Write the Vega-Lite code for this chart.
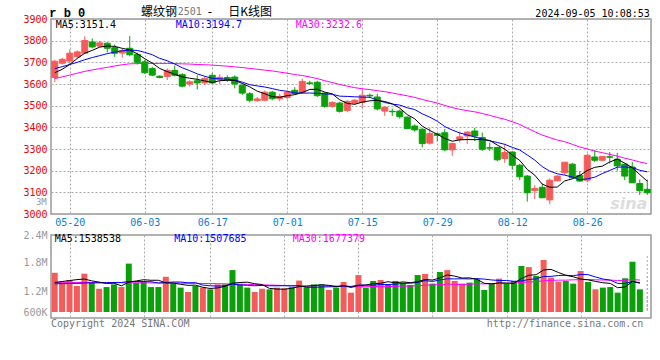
{
  "$schema": "https://vega.github.io/schema/vega-lite/v6.json",
  "autosize": {"type": "pad"},
  "padding": {"left": 22, "top": 5, "right": 9, "bottom": 32},
  "background": "white",
  "spacing": 21,
  "bounds": "flush",
  "config": {
    "view": {"stroke": "#999999", "strokeWidth": 1.5},
    "font": "DejaVu Sans Mono",
    "axis": {"labelFont": "DejaVu Sans Mono", "labelFontSize": 10, "title": null, "labelOverlap": false, "labelFlush": false}
  },
  "datasets": {
    "k": [
      {"d":"05-16","o":3630,"h":3712,"l":3608,"c":3705,"v":2060000,"m5":3652,"m10":3671,"m30":3625,"vm5":1550000,"vm10":1480000,"vm30":1560000},
      {"d":"05-17","o":3696,"h":3720,"l":3690,"c":3714,"v":1540000,"m5":3668,"m10":3680,"m30":3633,"vm5":1600000,"vm10":1490000,"vm30":1558000},
      {"d":"05-20","o":3706,"h":3760,"l":3690,"c":3742,"v":1680000,"m5":3690,"m10":3690,"m30":3641,"vm5":1650000,"vm10":1500000,"vm30":1555000},
      {"d":"05-21","o":3726,"h":3755,"l":3718,"c":3748,"v":1365000,"m5":3718,"m10":3700,"m30":3650,"vm5":1700000,"vm10":1500000,"vm30":1552000},
      {"d":"05-22","o":3742,"h":3820,"l":3740,"c":3801,"v":2010000,"m5":3742,"m10":3712,"m30":3658,"vm5":1731000,"vm10":1520000,"vm30":1550000},
      {"d":"05-23","o":3794,"h":3810,"l":3765,"c":3771,"v":1575000,"m5":3755.2,"m10":3722,"m30":3665,"vm5":1634000,"vm10":1530000,"vm30":1548000},
      {"d":"05-24","o":3775,"h":3800,"l":3770,"c":3790,"v":1220000,"m5":3770.4,"m10":3731,"m30":3671,"vm5":1570000,"vm10":1530000,"vm30":1545000},
      {"d":"05-27","o":3788,"h":3793,"l":3745,"c":3765,"v":1310000,"m5":3775,"m10":3740,"m30":3677,"vm5":1496000,"vm10":1540000,"vm30":1542000},
      {"d":"05-28","o":3768,"h":3782,"l":3725,"c":3742,"v":1450000,"m5":3773.8,"m10":3747,"m30":3683,"vm5":1513000,"vm10":1550000,"vm30":1540000},
      {"d":"05-29","o":3743,"h":3762,"l":3722,"c":3755,"v":1310000,"m5":3764.6,"m10":3753.3,"m30":3689,"vm5":1373000,"vm10":1552000,"vm30":1537000},
      {"d":"05-30","o":3765,"h":3822,"l":3728,"c":3735,"v":2540000,"m5":3757.4,"m10":3756.3,"m30":3693,"vm5":1566000,"vm10":1600000,"vm30":1535000},
      {"d":"05-31","o":3737,"h":3745,"l":3690,"c":3700,"v":1540000,"m5":3739.4,"m10":3754.9,"m30":3694,"vm5":1630000,"vm10":1600000,"vm30":1532000},
      {"d":"06-03","o":3702,"h":3712,"l":3646,"c":3652,"v":1630000,"m5":3716.8,"m10":3745.9,"m30":3695,"vm5":1694000,"vm10":1595000,"vm30":1530000},
      {"d":"06-04","o":3671,"h":3680,"l":3636,"c":3641,"v":1310000,"m5":3696.6,"m10":3735.2,"m30":3695,"vm5":1666000,"vm10":1590000,"vm30":1527000},
      {"d":"06-05","o":3636,"h":3640,"l":3626,"c":3630,"v":1310000,"m5":3671.6,"m10":3718.1,"m30":3695,"vm5":1666000,"vm10":1520000,"vm30":1524000},
      {"d":"06-06","o":3635,"h":3672,"l":3618,"c":3663,"v":1850000,"m5":3657.2,"m10":3707.3,"m30":3695,"vm5":1528000,"vm10":1547000,"vm30":1520000},
      {"d":"06-07","o":3663,"h":3685,"l":3635,"c":3640,"v":1510000,"m5":3645.2,"m10":3692.3,"m30":3694,"vm5":1522000,"vm10":1576000,"vm30":1516000},
      {"d":"06-11","o":3643,"h":3650,"l":3585,"c":3590,"v":1280000,"m5":3632.8,"m10":3674.8,"m30":3693,"vm5":1452000,"vm10":1573000,"vm30":1512000},
      {"d":"06-12","o":3600,"h":3618,"l":3588,"c":3610,"v":1050000,"m5":3626.6,"m10":3661.6,"m30":3692,"vm5":1400000,"vm10":1533000,"vm30":1508000},
      {"d":"06-13","o":3615,"h":3640,"l":3575,"c":3605,"v":1365000,"m5":3621.6,"m10":3646.6,"m30":3690,"vm5":1411000,"vm10":1539000,"vm30":1503000},
      {"d":"06-14","o":3605,"h":3635,"l":3595,"c":3625,"v":1280000,"m5":3614,"m10":3635.6,"m30":3689,"vm5":1297000,"vm10":1413000,"vm30":1498000},
      {"d":"06-17","o":3640,"h":3650,"l":3600,"c":3605,"v":1190000,"m5":3607,"m10":3626.1,"m30":3687,"vm5":1233000,"vm10":1378000,"vm30":1492000},
      {"d":"06-18","o":3620,"h":3645,"l":3600,"c":3631,"v":1450000,"m5":3615.2,"m10":3624,"m30":3685,"vm5":1267000,"vm10":1360000,"vm30":1486000},
      {"d":"06-19","o":3630,"h":3640,"l":3610,"c":3620,"v":1450000,"m5":3617.2,"m10":3621.9,"m30":3682,"vm5":1347000,"vm10":1374000,"vm30":1480000},
      {"d":"06-20","o":3632,"h":3640,"l":3580,"c":3600,"v":2200000,"m5":3616.2,"m10":3618.9,"m30":3679,"vm5":1514000,"vm10":1463000,"vm30":1473000},
      {"d":"06-21","o":3594,"h":3600,"l":3550,"c":3558,"v":1450000,"m5":3602.8,"m10":3608.4,"m30":3676,"vm5":1548000,"vm10":1423000,"vm30":1460000},
      {"d":"06-24","o":3555,"h":3562,"l":3515,"c":3525,"v":1280000,"m5":3586.8,"m10":3596.9,"m30":3672,"vm5":1566000,"vm10":1400000,"vm30":1450000},
      {"d":"06-25","o":3523,"h":3540,"l":3518,"c":3531,"v":1050000,"m5":3566.8,"m10":3591,"m30":3668,"vm5":1486000,"vm10":1377000,"vm30":1440000},
      {"d":"06-26","o":3525,"h":3570,"l":3520,"c":3562,"v":1220000,"m5":3555.2,"m10":3586.2,"m30":3664,"vm5":1440000,"vm10":1394000,"vm30":1425000},
      {"d":"06-27","o":3562,"h":3568,"l":3525,"c":3532,"v":1190000,"m5":3541.6,"m10":3578.9,"m30":3660.3,"vm5":1238000,"vm10":1376000,"vm30":1413000},
      {"d":"06-28","o":3532,"h":3555,"l":3520,"c":3543,"v":1280000,"m5":3538.6,"m10":3570.7,"m30":3654.9,"vm5":1204000,"vm10":1376000,"vm30":1404000},
      {"d":"07-01","o":3538,"h":3570,"l":3530,"c":3562,"v":1240000,"m5":3546,"m10":3566.4,"m30":3649.8,"vm5":1196000,"vm10":1381000,"vm30":1389000},
      {"d":"07-02","o":3571,"h":3585,"l":3550,"c":3555,"v":1300000,"m5":3550.8,"m10":3558.8,"m30":3643.6,"vm5":1246000,"vm10":1366000,"vm30":1387000},
      {"d":"07-03","o":3562,"h":3625,"l":3555,"c":3612,"v":1650000,"m5":3560.8,"m10":3558,"m30":3639.1,"vm5":1332000,"vm10":1386000,"vm30":1375000},
      {"d":"07-04","o":3605,"h":3615,"l":3595,"c":3603,"v":1300000,"m5":3575,"m10":3558.3,"m30":3632.5,"vm5":1354000,"vm10":1296000,"vm30":1366000},
      {"d":"07-05","o":3608,"h":3615,"l":3540,"c":3546,"v":1450000,"m5":3575.6,"m10":3557.1,"m30":3625,"vm5":1388000,"vm10":1296000,"vm30":1374000},
      {"d":"07-08","o":3558,"h":3560,"l":3490,"c":3497,"v":1450000,"m5":3562.6,"m10":3554.3,"m30":3615.2,"vm5":1430000,"vm10":1313000,"vm30":1379000},
      {"d":"07-09","o":3497,"h":3520,"l":3490,"c":3515,"v":1155000,"m5":3554.6,"m10":3552.7,"m30":3606.8,"vm5":1401000,"vm10":1324000,"vm30":1369000},
      {"d":"07-10","o":3512,"h":3518,"l":3468,"c":3474,"v":1280000,"m5":3527,"m10":3543.9,"m30":3597.9,"vm5":1327000,"vm10":1330000,"vm30":1368000},
      {"d":"07-11","o":3478,"h":3525,"l":3470,"c":3520,"v":1575000,"m5":3510.4,"m10":3542.7,"m30":3590.1,"vm5":1382000,"vm10":1368000,"vm30":1336000},
      {"d":"07-12","o":3512,"h":3530,"l":3505,"c":3525,"v":1015000,"m5":3506.2,"m10":3540.9,"m30":3583.1,"vm5":1295000,"vm10":1342000,"vm30":1318000},
      {"d":"07-15","o":3515,"h":3574,"l":3489,"c":3548,"v":1940000,"m5":3516.4,"m10":3539.5,"m30":3578,"vm5":1393000,"vm10":1412000,"vm30":1328000},
      {"d":"07-16","o":3548,"h":3556,"l":3535,"c":3545,"v":1280000,"m5":3522.4,"m10":3538.5,"m30":3574.4,"vm5":1418000,"vm10":1410000,"vm30":1327000},
      {"d":"07-17","o":3540,"h":3555,"l":3478,"c":3485,"v":1630000,"m5":3524.6,"m10":3525.8,"m30":3569.2,"vm5":1488000,"vm10":1408000,"vm30":1338000},
      {"d":"07-18","o":3475,"h":3493,"l":3453,"c":3493,"v":1680000,"m5":3519.2,"m10":3514.8,"m30":3564.7,"vm5":1509000,"vm10":1446000,"vm30":1332000},
      {"d":"07-19","o":3474,"h":3487,"l":3453,"c":3472,"v":1420000,"m5":3508.6,"m10":3507.4,"m30":3558.3,"vm5":1590000,"vm10":1443000,"vm30":1329000},
      {"d":"07-22","o":3475,"h":3482,"l":3440,"c":3449,"v":1630000,"m5":3488.8,"m10":3502.6,"m30":3551.9,"vm5":1528000,"vm10":1461000,"vm30":1348000},
      {"d":"07-23","o":3447,"h":3450,"l":3392,"c":3394,"v":1540000,"m5":3458.6,"m10":3490.5,"m30":3545.4,"vm5":1580000,"vm10":1499000,"vm30":1357000},
      {"d":"07-24","o":3406,"h":3414,"l":3380,"c":3388,"v":1420000,"m5":3439.2,"m10":3481.9,"m30":3538,"vm5":1538000,"vm10":1513000,"vm30":1359000},
      {"d":"07-25","o":3391,"h":3398,"l":3307,"c":3325,"v":1940000,"m5":3405.6,"m10":3462.4,"m30":3528.7,"vm5":1590000,"vm10":1550000,"vm30":1384000},
      {"d":"07-26","o":3327,"h":3398,"l":3320,"c":3371,"v":2000000,"m5":3385.4,"m10":3447,"m30":3520.2,"vm5":1706000,"vm10":1648000,"vm30":1408000},
      {"d":"07-29","o":3370,"h":3373,"l":3335,"c":3363,"v":1490000,"m5":3368.2,"m10":3428.5,"m30":3512.1,"vm5":1678000,"vm10":1603000,"vm30":1418000},
      {"d":"07-30","o":3375,"h":3393,"l":3290,"c":3296,"v":2100000,"m5":3348.6,"m10":3403.6,"m30":3501,"vm5":1790000,"vm10":1685000,"vm30":1440000},
      {"d":"07-31","o":3296,"h":3330,"l":3269,"c":3325,"v":2200000,"m5":3336,"m10":3387.6,"m30":3491.1,"vm5":1946000,"vm10":1742000,"vm30":1465000},
      {"d":"08-01","o":3344,"h":3380,"l":3330,"c":3356,"v":1630000,"m5":3342.2,"m10":3373.9,"m30":3483,"vm5":1884000,"vm10":1737000,"vm30":1446000},
      {"d":"08-02","o":3360,"h":3383,"l":3322,"c":3378,"v":1490000,"m5":3343.6,"m10":3364.5,"m30":3477,"vm5":1782000,"vm10":1744000,"vm30":1447000},
      {"d":"08-05","o":3383,"h":3398,"l":3337,"c":3360,"v":1540000,"m5":3343,"m10":3355.6,"m30":3471.5,"vm5":1792000,"vm10":1735000,"vm30":1456000},
      {"d":"08-06","o":3353,"h":3376,"l":3291,"c":3299,"v":1715000,"m5":3343.6,"m10":3346.1,"m30":3463.8,"vm5":1715000,"vm10":1753000,"vm30":1478000},
      {"d":"08-07","o":3306,"h":3330,"l":3291,"c":3304,"v":1155000,"m5":3339.4,"m10":3337.7,"m30":3455.2,"vm5":1506000,"vm10":1726000,"vm30":1476000},
      {"d":"08-08","o":3307,"h":3310,"l":3244,"c":3250,"v":1490000,"m5":3318.2,"m10":3330.2,"m30":3445.8,"vm5":1478000,"vm10":1681000,"vm30":1486000},
      {"d":"08-09","o":3256,"h":3324,"l":3236,"c":3284,"v":1750000,"m5":3299.4,"m10":3321.5,"m30":3437.1,"vm5":1530000,"vm10":1656000,"vm30":1502000},
      {"d":"08-12","o":3286,"h":3290,"l":3205,"c":3225,"v":1490000,"m5":3272.4,"m10":3307.7,"m30":3425.9,"vm5":1520000,"vm10":1656000,"vm30":1510000},
      {"d":"08-13","o":3225,"h":3232,"l":3156,"c":3172,"v":1630000,"m5":3247,"m10":3295.3,"m30":3413.1,"vm5":1503000,"vm10":1609000,"vm30":1521000},
      {"d":"08-14","o":3175,"h":3180,"l":3057,"c":3098,"v":2415000,"m5":3205.8,"m10":3272.6,"m30":3396,"vm5":1755000,"vm10":1631000,"vm30":1546000},
      {"d":"08-15","o":3108,"h":3133,"l":3069,"c":3118,"v":2360000,"m5":3179.4,"m10":3248.8,"m30":3379.8,"vm5":1929000,"vm10":1704000,"vm30":1581000},
      {"d":"08-16","o":3123,"h":3141,"l":3073,"c":3075,"v":1890000,"m5":3137.6,"m10":3218.5,"m30":3364.1,"vm5":1957000,"vm10":1744000,"vm30":1596000},
      {"d":"08-19","o":3065,"h":3164,"l":3045,"c":3156,"v":2730000,"m5":3123.8,"m10":3198.1,"m30":3352.8,"vm5":2205000,"vm10":1863000,"vm30":1639000},
      {"d":"08-20","o":3153,"h":3178,"l":3150,"c":3175,"v":1800000,"m5":3124.4,"m10":3185.7,"m30":3341.4,"vm5":2239000,"vm10":1871000,"vm30":1661000},
      {"d":"08-21","o":3190,"h":3239,"l":3180,"c":3239,"v":1590000,"m5":3152.6,"m10":3179.2,"m30":3333.6,"vm5":2074000,"vm10":1915000,"vm30":1671000},
      {"d":"08-22","o":3230,"h":3236,"l":3167,"c":3167,"v":1630000,"m5":3162.4,"m10":3170.9,"m30":3321.8,"vm5":1928000,"vm10":1929000,"vm30":1673000},
      {"d":"08-23","o":3178,"h":3199,"l":3150,"c":3152,"v":1490000,"m5":3177.8,"m10":3157.7,"m30":3309.4,"vm5":1848000,"vm10":1903000,"vm30":1689000},
      {"d":"08-26","o":3156,"h":3278,"l":3146,"c":3271,"v":2150000,"m5":3200.8,"m10":3162.3,"m30":3300.2,"vm5":1732000,"vm10":1969000,"vm30":1696000},
      {"d":"08-27","o":3263,"h":3294,"l":3240,"c":3248,"v":1575000,"m5":3215.4,"m10":3169.9,"m30":3290.3,"vm5":1687000,"vm10":1962000,"vm30":1706000},
      {"d":"08-28","o":3248,"h":3266,"l":3245,"c":3266,"v":1190000,"m5":3220.8,"m10":3186.7,"m30":3283,"vm5":1607000,"vm10":1840000,"vm30":1691000},
      {"d":"08-29","o":3264,"h":3286,"l":3233,"c":3262,"v":1280000,"m5":3239.8,"m10":3201.1,"m30":3275.3,"vm5":1537000,"vm10":1732000,"vm30":1678000},
      {"d":"08-30","o":3253,"h":3282,"l":3199,"c":3222,"v":1310000,"m5":3253.8,"m10":3215.8,"m30":3267,"vm5":1501000,"vm10":1674000,"vm30":1674000},
      {"d":"09-02","o":3230,"h":3233,"l":3156,"c":3175,"v":1015000,"m5":3234.6,"m10":3217.7,"m30":3257.8,"vm5":1274000,"vm10":1502000,"vm30":1654000},
      {"d":"09-03","o":3217,"h":3240,"l":3144,"c":3144,"v":1770000,"m5":3213.8,"m10":3214.6,"m30":3249.5,"vm5":1313000,"vm10":1499000,"vm30":1661000},
      {"d":"09-04","o":3141,"h":3159,"l":3088,"c":3108,"v":2640000,"m5":3182.2,"m10":3201.5,"m30":3240.2,"vm5":1603000,"vm10":1604000,"vm30":1702000},
      {"d":"09-05","o":3114,"h":3159,"l":3088,"c":3098,"v":1190000,"m5":3151.4,"m10":3194.7,"m30":3232.6,"vm5":1538538,"vm10":1507685,"vm30":1677379}
    ]
  },
  "vconcat": [
    {
      "width": 600,
      "height": 195,
      "data": {"name": "k"},
      "resolve": {"axis": {"y": "independent"}},
      "encoding": {
        "x": {
          "field": "d", "type": "ordinal", "sort": null,
          "scale": {"type": "point", "padding": 0.5},
          "axis": {
            "values": ["05-20","06-03","06-17","07-01","07-15","07-29","08-12","08-26"],
            "grid": true, "gridDash": [2, 2], "gridColor": "#aaaaaa",
            "ticks": false, "domain": false, "labelAngle": 0,
            "labelColor": "#0a7fd8", "labelPadding": 3
          }
        }
      },
      "layer": [
        {
          "mark": {"type": "rule", "strokeWidth": 1},
          "encoding": {
            "y": {
              "field": "l", "type": "quantitative",
              "scale": {"domain": [3000, 3900], "nice": false, "zero": false},
              "axis": {
                "values": [3000, 3100, 3200, 3300, 3400, 3500, 3600, 3700, 3800, 3900],
                "labelExpr": "format(datum.value, 'd')",
                "labelColor": "#ee0000",
                "grid": true, "gridDash": [2, 2], "gridColor": "#aaaaaa",
                "ticks": false, "domain": false, "labelPadding": 4, "labelOverlap": false
              }
            },
            "y2": {"field": "h"},
            "color": {"condition": {"test": "datum.c >= datum.o", "value": "#f65b5b"}, "value": "#0aa00a"}
          }
        },
        {
          "mark": {"type": "bar", "width": 6, "strokeWidth": 1},
          "encoding": {
            "y": {"field": "o", "type": "quantitative", "axis": null},
            "y2": {"field": "c"},
            "color": {"condition": {"test": "datum.c >= datum.o", "value": "#f65b5b"}, "value": "#0aa00a"},
            "stroke": {"condition": {"test": "datum.c >= datum.o", "value": "#f65b5b"}, "value": "#0aa00a"}
          }
        },
        {"mark": {"type": "line", "color": "#ff00ff", "strokeWidth": 1}, "encoding": {"y": {"field": "m30", "type": "quantitative", "axis": null}}},
        {"mark": {"type": "line", "color": "#0000ff", "strokeWidth": 1}, "encoding": {"y": {"field": "m10", "type": "quantitative", "axis": null}}},
        {"mark": {"type": "line", "color": "#000000", "strokeWidth": 1}, "encoding": {"y": {"field": "m5", "type": "quantitative", "axis": null}}},
        {"data": {"values": [{}]}, "mark": {"type": "text", "text": "3M", "align": "right", "baseline": "middle", "dx": -8, "color": "#999999", "fontSize": 9},
         "encoding": {"x": {"datum": "05-16", "type": "ordinal"}, "y": {"datum": 3054, "type": "quantitative", "axis": null}}},
        {"data": {"values": [{}]}, "mark": {"type": "text", "text": "sina", "align": "center", "baseline": "middle", "dx": 4, "color": "#dddddd", "font": "DejaVu Sans", "fontStyle": "italic", "fontWeight": "bold", "fontSize": 16},
         "encoding": {"x": {"datum": "09-02", "type": "ordinal"}, "y": {"datum": 3046, "type": "quantitative", "axis": null}}},
        {"data": {"values": [{}]}, "mark": {"type": "text", "text": "MA5:3151.4", "align": "left", "baseline": "middle", "dx": 1, "color": "#000000", "fontSize": 10},
         "encoding": {"x": {"datum": "05-16", "type": "ordinal"}, "y": {"datum": 3872, "type": "quantitative", "axis": null}}},
        {"data": {"values": [{}]}, "mark": {"type": "text", "text": "MA10:3194.7", "align": "left", "baseline": "middle", "dx": 1, "color": "#0000ff", "fontSize": 10},
         "encoding": {"x": {"datum": "06-07", "type": "ordinal"}, "y": {"datum": 3872, "type": "quantitative", "axis": null}}},
        {"data": {"values": [{}]}, "mark": {"type": "text", "text": "MA30:3232.6", "align": "left", "baseline": "middle", "dx": 1, "color": "#ff00ff", "fontSize": 10},
         "encoding": {"x": {"datum": "07-02", "type": "ordinal"}, "y": {"datum": 3872, "type": "quantitative", "axis": null}}},
        {"data": {"values": [{}]}, "mark": {"type": "text", "text": "r b 0", "align": "left", "baseline": "middle", "dx": -5.5, "color": "#000000", "font": "Liberation Mono", "fontWeight": "bold", "fontSize": 12},
         "encoding": {"x": {"datum": "05-16", "type": "ordinal"}, "y": {"datum": 3929, "type": "quantitative", "axis": null}}},
        {"data": {"values": [{}]}, "mark": {"type": "text", "text": "螺纹钢", "align": "left", "baseline": "middle", "dx": 3.75, "color": "#000000", "font": "Noto Sans CJK SC", "fontSize": 12},
         "encoding": {"x": {"datum": "05-31", "type": "ordinal"}, "y": {"datum": 3931, "type": "quantitative", "axis": null}}},
        {"data": {"values": [{}]}, "mark": {"type": "text", "text": "2501", "align": "left", "baseline": "middle", "dx": 3, "color": "#777777", "font": "DejaVu Sans Mono", "fontSize": 10},
         "encoding": {"x": {"datum": "06-07", "type": "ordinal"}, "y": {"datum": 3931, "type": "quantitative", "axis": null}}},
        {"data": {"values": [{}]}, "mark": {"type": "text", "text": "-", "align": "left", "baseline": "middle", "dx": 3, "color": "#000000", "font": "DejaVu Sans", "fontSize": 12},
         "encoding": {"x": {"datum": "06-14", "type": "ordinal"}, "y": {"datum": 3931, "type": "quantitative", "axis": null}}},
        {"data": {"values": [{}]}, "mark": {"type": "text", "text": "日K线图", "align": "left", "baseline": "middle", "dx": 1, "color": "#000000", "font": "Noto Sans CJK SC", "fontSize": 12},
         "encoding": {"x": {"datum": "06-19", "type": "ordinal"}, "y": {"datum": 3931, "type": "quantitative", "axis": null}}},
        {"data": {"values": [{}]}, "mark": {"type": "text", "text": "2024-09-05 10:08:53", "align": "right", "baseline": "middle", "dx": 2.5, "color": "#000000", "fontSize": 10},
         "encoding": {"x": {"datum": "09-05", "type": "ordinal"}, "y": {"datum": 3924, "type": "quantitative", "axis": null}}}
      ]
    },
    {
      "width": 600,
      "height": 83,
      "data": {"name": "k"},
      "resolve": {"axis": {"y": "independent"}},
      "encoding": {
        "x": {
          "field": "d", "type": "ordinal", "sort": null,
          "scale": {"type": "point", "padding": 0.5},
          "axis": {
            "values": ["05-20","06-03","06-17","07-01","07-15","07-29","08-12","08-26"],
            "grid": true, "gridDash": [2, 2], "gridColor": "#aaaaaa",
            "ticks": false, "domain": false, "labels": false
          }
        }
      },
      "layer": [
        {
          "mark": {"type": "bar", "width": 6},
          "encoding": {
            "y": {
              "field": "v", "type": "quantitative",
              "scale": {"domain": [-315000, 4042500], "nice": false, "zero": false},
              "axis": {
                "values": [4042500, 2625000, 1102500, 0],
                "labelExpr": "datum.value > 4000000 ? '2.4M' : datum.value > 2000000 ? '1.8M' : datum.value > 1000000 ? '1.2M' : '600K'",
                "labelColor": "#999999",
                "grid": false,
                "ticks": false, "domain": false, "labelPadding": 4, "labelOverlap": false
              }
            },
            "y2": {"datum": 0},
            "color": {"condition": {"test": "datum.c >= datum.o", "value": "#f65b5b"}, "value": "#0aa00a"}
          }
        },
        {"data": {"values": [{}]}, "mark": {"type": "rule", "strokeDash": [2, 2], "color": "#aaaaaa", "strokeWidth": 1}, "encoding": {"y": {"datum": 2940000, "type": "quantitative", "axis": null}}},
        {"data": {"values": [{}]}, "mark": {"type": "rule", "strokeDash": [2, 2], "color": "#aaaaaa", "strokeWidth": 1}, "encoding": {"y": {"datum": 1890000, "type": "quantitative", "axis": null}}},
        {"data": {"values": [{}]}, "mark": {"type": "rule", "strokeDash": [2, 2], "color": "#aaaaaa", "strokeWidth": 1}, "encoding": {"y": {"datum": 787500, "type": "quantitative", "axis": null}}},
        {"mark": {"type": "line", "color": "#ff00ff", "strokeWidth": 1}, "encoding": {"y": {"field": "vm30", "type": "quantitative", "axis": null}}},
        {"mark": {"type": "line", "color": "#0000ff", "strokeWidth": 1}, "encoding": {"y": {"field": "vm10", "type": "quantitative", "axis": null}}},
        {"mark": {"type": "line", "color": "#000000", "strokeWidth": 1}, "encoding": {"y": {"field": "vm5", "type": "quantitative", "axis": null}}},
        {"data": {"values": [{}]}, "mark": {"type": "text", "text": "MA5:1538538", "align": "left", "baseline": "middle", "dx": 0, "color": "#000000", "fontSize": 10},
         "encoding": {"x": {"datum": "05-16", "type": "ordinal"}, "y": {"datum": 3817000, "type": "quantitative", "axis": null}}},
        {"data": {"values": [{}]}, "mark": {"type": "text", "text": "MA10:1507685", "align": "left", "baseline": "middle", "dx": 1, "color": "#0000ff", "fontSize": 10},
         "encoding": {"x": {"datum": "06-07", "type": "ordinal"}, "y": {"datum": 3817000, "type": "quantitative", "axis": null}}},
        {"data": {"values": [{}]}, "mark": {"type": "text", "text": "MA30:1677379", "align": "left", "baseline": "middle", "dx": 1, "color": "#ff00ff", "fontSize": 10},
         "encoding": {"x": {"datum": "07-02", "type": "ordinal"}, "y": {"datum": 3817000, "type": "quantitative", "axis": null}}},
        {"data": {"values": [{}]}, "mark": {"type": "text", "text": "Copyright 2024 SINA.COM", "align": "left", "baseline": "middle", "dx": -3.75, "color": "#777777", "fontSize": 10},
         "encoding": {"x": {"datum": "05-16", "type": "ordinal"}, "y": {"datum": -646000, "type": "quantitative", "axis": null}}},
        {"data": {"values": [{}]}, "mark": {"type": "text", "text": "http://finance.sina.com.cn", "align": "right", "baseline": "middle", "dx": 3.5, "color": "#777777", "fontSize": 10},
         "encoding": {"x": {"datum": "09-05", "type": "ordinal"}, "y": {"datum": -646000, "type": "quantitative", "axis": null}}}
      ]
    }
  ]
}
